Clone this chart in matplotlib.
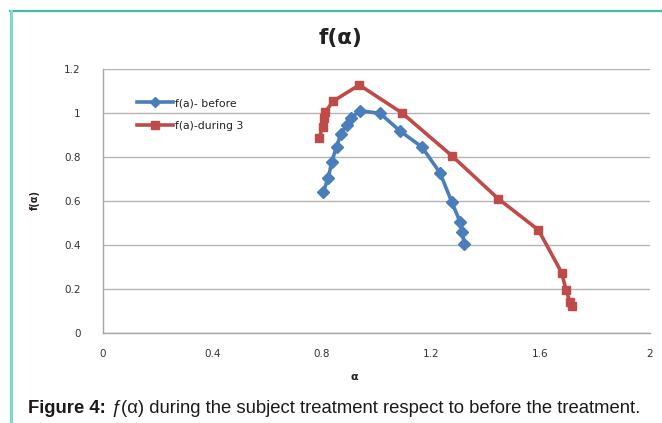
import matplotlib
matplotlib.use("Agg")
import matplotlib.pyplot as plt
from matplotlib.lines import Line2D

# Data
before_alpha = [0.805, 0.824, 0.836, 0.854, 0.869, 0.891, 0.906, 0.940, 1.013,
                1.086, 1.166, 1.232, 1.275, 1.305, 1.314, 1.320]
before_f = [0.638, 0.705, 0.775, 0.845, 0.902, 0.944, 0.975, 1.009, 0.997,
            0.917, 0.844, 0.727, 0.595, 0.505, 0.459, 0.402]
during_alpha = [0.791, 0.803, 0.808, 0.812, 0.842, 0.937, 1.092, 1.275, 1.445,
                1.592, 1.677, 1.693, 1.707, 1.714]
during_f = [0.886, 0.936, 0.977, 1.002, 1.053, 1.126, 1.000, 0.805, 0.609,
            0.467, 0.273, 0.194, 0.141, 0.121]
x_ticks = [0, 0.4, 0.8, 1.2, 1.6, 2]
x_tick_labels = ["0", "0.4", "0.8", "1.2", "1.6", "2"]
y_ticks = [0, 0.2, 0.4, 0.6, 0.8, 1.0, 1.2]
y_tick_labels = ["0", "0.2", "0.4", "0.6", "0.8", "1", "1.2"]
series_names = ["f(a)- before", "f(a)-during 3"]

W, H = 662, 423
fig = plt.figure(figsize=(W / 100, H / 100), dpi=100)
fig.patch.set_facecolor("white")

# teal frame lines
fig.add_artist(Line2D([10 / W, 1.0], [1 - 11 / H, 1 - 11 / H], transform=fig.transFigure,
                      color="#45b9a2", lw=1.6))
fig.add_artist(Line2D([10.5 / W, 10.5 / W], [0, 1 - 11 / H], transform=fig.transFigure,
                      color="#7fd9c9", lw=2.2))

left, right, top, bottom = 103, 650, 68.7, 332.7
ax = fig.add_axes([left / W, 1 - bottom / H, (right - left) / W, (bottom - top) / H])
ax.set_xlim(0, 2)
ax.set_ylim(0, 1.2)

blue = "#4a7ebb"
red = "#be4b48"
ax.plot(before_alpha, before_f, color=blue, lw=2.6, marker="D", ms=6,
        mfc=blue, mec=blue, label=series_names[0], zorder=4)
ax.plot(during_alpha, during_f, color=red, lw=2.6, marker="s", ms=6,
        mfc=red, mec=red, label=series_names[1], zorder=3)

ax.set_xticks(x_ticks)
ax.set_xticklabels(x_tick_labels)
ax.set_yticks(y_ticks)
ax.set_yticklabels(y_tick_labels)
ax.tick_params(axis="both", length=0, labelsize=7.5, colors="#333333")
ax.tick_params(axis="x", pad=12)
ax.tick_params(axis="y", pad=16)
ax.yaxis.grid(True, color="#b3b3b3", lw=1.0)
ax.set_axisbelow(True)
for s in ["top", "right"]:
    ax.spines[s].set_visible(False)
for s in ["left", "bottom"]:
    ax.spines[s].set_color("#a6a6a6")
    ax.spines[s].set_linewidth(1.0)

leg = ax.legend(loc="upper left", bbox_to_anchor=(0.055, 0.905), frameon=False,
                fontsize=7.8, handlelength=3.3, handletextpad=0.15, labelspacing=1.2,
                borderaxespad=0, markerscale=0.85)
for t in leg.get_texts():
    t.set_color("#222222")

fig.text(341 / W, 1 - 38 / H, "f(α)", ha="center", va="center", fontsize=15.5,
         fontweight="bold", color="#222222")
fig.text(35 / W, 1 - 200 / H, "f(α)", ha="center", va="center", rotation=90,
         fontsize=7, fontweight="bold", color="#222222")
fig.text(354 / W, 1 - 377 / H, "α", ha="center", va="center", fontsize=8,
         fontweight="bold", color="#222222")

# caption
cap_y = 1 - 408 / H
renderer = fig.canvas.get_renderer()
t1 = fig.text(28 / W, cap_y, "Figure 4: ", ha="left", va="center", fontsize=13.3,
              fontweight="bold", family="Liberation Sans", color="#1a1a1a")
bb = t1.get_window_extent(renderer)
t2 = fig.text(bb.x1 / W, cap_y, "ƒ", ha="left", va="center", fontsize=13.3,
              style="italic", family="Liberation Sans", color="#1a1a1a")
bb2 = t2.get_window_extent(renderer)
fig.text(bb2.x1 / W, cap_y, "(α) during the subject treatment respect to before the treatment.",
         ha="left", va="center", fontsize=13.3, family="Liberation Sans", color="#1a1a1a")

fig.savefig("out.png", dpi=100, facecolor="white")
